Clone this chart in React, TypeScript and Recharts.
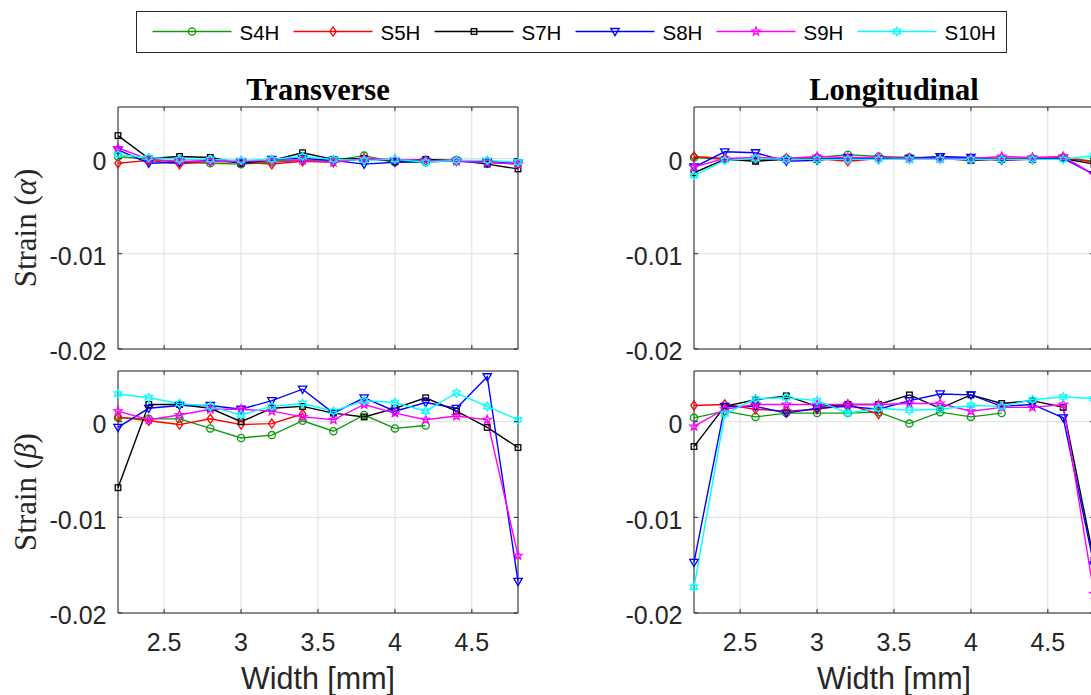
import React from 'react'
import { LineChart, Line, XAxis, YAxis, CartesianGrid, ReferenceArea } from 'recharts'

const widths = [2.2, 2.4, 2.6, 2.8, 3.0, 3.2, 3.4, 3.6, 3.8, 4.0, 4.2, 4.4, 4.6, 4.8]
const xTicks = [2.5, 3, 3.5, 4, 4.5]
const yTicks = [-0.02, -0.01, 0]

const seriesNames = ['S4H', 'S5H', 'S7H', 'S8H', 'S9H', 'S10H']
const seriesColors = ['#0c9a0c', '#ff0000', '#000000', '#0000ff', '#ff00ff', '#00ffff']
const seriesMarkers = ['circle', 'diamond', 'square', 'triangle', 'star', 'hexagram']

// Transverse, strain alpha
const transAlphaS4H = [0.0002, -0.0001, -0.0004, -0.0005, -0.0006, -0.0004, -0.0002, -0.0002, 0.0003, -0.0004, -0.0004, -0.0002, -0.0003, -0.0005]
const transAlphaS5H = [-0.0005, -0.0002, -0.0006, -0.0003, -0.0004, -0.0006, -0.0003, -0.0004, 0, -0.0002, -0.0003, -0.0002, -0.0004, -0.0006]
const transAlphaS7H = [0.0024, 0, 0.0002, 0.0001, -0.0005, -0.0002, 0.0006, -0.0001, 0, -0.0003, -0.0001, -0.0002, -0.0006, -0.0011]
const transAlphaS8H = [0.0009, -0.0005, -0.0004, -0.0002, -0.0004, -0.0001, 0, -0.0002, -0.0006, -0.0004, -0.0003, -0.0003, -0.0004, -0.0005]
const transAlphaS9H = [0.0011, -0.0001, -0.0003, -0.0003, -0.0003, -0.0002, -0.0002, -0.0004, 0, -0.0001, -0.0002, -0.0003, -0.0004, -0.0006]
const transAlphaS10H = [0.0004, 0.0001, -0.0001, -0.0001, -0.0002, -0.0001, 0.0002, -0.0001, -0.0002, -0.0001, -0.0004, -0.0002, -0.0002, -0.0004]

// Longitudinal, strain alpha
const longAlphaS4H = [0.0001, -0.0001, -0.0002, 0, 0.0001, 0.0004, 0.0002, 0.0001, 0.0001, 0, 0, 0, 0.0001, -0.0003]
const longAlphaS5H = [0.0002, 0, -0.0001, 0, 0, -0.0003, 0, 0, 0, 0, 0, 0, 0.0001, -0.0004]
const longAlphaS7H = [-0.0015, -0.0001, -0.0003, -0.0001, -0.0001, 0.0001, 0, 0, 0, -0.0002, -0.0001, -0.0001, 0, -0.0006]
const longAlphaS8H = [-0.0009, 0.0007, 0.0006, -0.0003, -0.0002, 0.0001, -0.0001, 0, 0.0002, 0.0001, -0.0002, -0.0001, 0, -0.0017]
const longAlphaS9H = [-0.0009, 0, 0.0001, 0, 0.0002, 0.0001, 0.0001, 0, 0, 0, 0.0002, 0.0001, 0.0002, -0.0017]
const longAlphaS10H = [-0.0018, -0.0002, 0, -0.0001, -0.0001, -0.0001, -0.0001, -0.0001, -0.0001, -0.0001, -0.0001, -0.0001, -0.0001, 0.0003]

// Transverse, strain beta
const transBetaS4H = [0.0004, 0.0003, 0.0003, -0.0007, -0.0017, -0.0014, 0.0001, -0.001, 0.0007, -0.0007, -0.0004, null, null, null]
const transBetaS5H = [0.0005, 0.0001, -0.0003, 0.0003, -0.0003, -0.0002, 0.0008, null, null, null, null, null, null, null]
const transBetaS7H = [-0.0069, 0.0018, 0.0018, 0.0014, 0, 0.0014, 0.0016, 0.0009, 0.0005, 0.0014, 0.0025, 0.0011, -0.0006, -0.0027]
const transBetaS8H = [-0.0006, 0.0014, 0.0017, 0.0017, 0.0013, 0.0022, 0.0034, 0.0009, 0.0025, 0.0011, 0.002, 0.0014, 0.0047, -0.0167]
const transBetaS9H = [0.0011, 0.0002, 0.0007, 0.0013, 0.0013, 0.0011, 0.0005, 0.0002, 0.0018, 0.0009, 0.0002, 0.0006, 0.0002, -0.014]
const transBetaS10H = [0.0029, 0.0025, 0.0019, 0.0016, 0.0007, 0.0016, 0.0019, 0.0011, 0.0022, 0.002, 0.0011, 0.003, 0.0016, 0.0002]

// Longitudinal, strain beta
const longBetaS4H = [0.0004, 0.0011, 0.0005, 0.0009, 0.0009, 0.0009, 0.001, -0.0002, 0.001, 0.0005, 0.0009, null, null, null]
const longBetaS5H = [0.0017, 0.0018, 0.0013, 0.0011, 0.0013, 0.0018, 0.0008, null, null, null, null, null, null, null]
const longBetaS7H = [-0.0026, 0.0016, 0.0023, 0.0027, 0.0016, 0.0018, 0.0018, 0.0028, 0.0014, 0.0028, 0.0019, 0.0022, 0.0015, -0.0145]
const longBetaS8H = [-0.0147, 0.0016, 0.0016, 0.0009, 0.0014, 0.0016, 0.0013, 0.0022, 0.0029, 0.0028, 0.0016, 0.0018, 0.0004, -0.015]
const longBetaS9H = [-0.0005, 0.0013, 0.0018, 0.0018, 0.0018, 0.0018, 0.0018, 0.0019, 0.0019, 0.0011, 0.0015, 0.0015, 0.0018, -0.018]
const longBetaS10H = [-0.0173, 0.0008, 0.0024, 0.0025, 0.0022, 0.0009, 0.0014, 0.0012, 0.0013, 0.0017, 0.0016, 0.0023, 0.0026, 0.0024]

const SANS = '"Liberation Sans", Arial, Helvetica, sans-serif'
const SERIF = '"Liberation Serif", "Times New Roman", serif'
const AXIS = '#262626'
const GRID = '#dedede'

const PLOT_W = 400
const PLOT_H = 242
const Y_W = 118
const M_TOP = 11
const M_RIGHT = 12
const X_H = 50

function Marker({ shape, cx, cy, color }: { shape: string; cx: number; cy: number; color: string }) {
  const common = { fill: 'none', stroke: color, strokeWidth: 1.3 }
  if (shape === 'circle') return <circle cx={cx} cy={cy} r={3.6} {...common} />
  if (shape === 'diamond')
    return <polygon points={`${cx},${cy - 4.6} ${cx + 3.2},${cy} ${cx},${cy + 4.6} ${cx - 3.2},${cy}`} {...common} />
  if (shape === 'square') return <rect x={cx - 2.8} y={cy - 2.8} width={5.6} height={5.6} {...common} />
  if (shape === 'triangle')
    return <polygon points={`${cx - 4.2},${cy - 3} ${cx + 4.2},${cy - 3} ${cx},${cy + 4.2}`} {...common} />
  const n = shape === 'star' ? 5 : 6
  const R = shape === 'star' ? 4.4 : 4.2
  const r = shape === 'star' ? 1.9 : 2.4
  const pts: string[] = []
  for (let k = 0; k < n * 2; k++) {
    const a = -Math.PI / 2 + (k * Math.PI) / n
    const rad = k % 2 === 0 ? R : r
    pts.push(`${cx + rad * Math.cos(a)},${cy + rad * Math.sin(a)}`)
  }
  return <polygon points={pts.join(' ')} {...common} />
}

const XTick = (props: any) => {
  const { x, payload, showLabel } = props
  const yb = M_TOP + PLOT_H
  return (
    <g>
      <line x1={x} x2={x} y1={yb} y2={yb - 4} stroke={AXIS} />
      <line x1={x} x2={x} y1={M_TOP} y2={M_TOP + 4} stroke={AXIS} />
      {showLabel && (
        <text x={x} y={yb + 20} dy="0.71em" textAnchor="middle" fill={AXIS} fontSize={25} fontFamily={SANS}>
          {String(payload.value)}
        </text>
      )}
    </g>
  )
}

const YTick = (props: any) => {
  const { y, payload } = props
  return (
    <g>
      <line x1={Y_W} x2={Y_W + 4} y1={y} y2={y} stroke={AXIS} />
      <line x1={Y_W + PLOT_W} x2={Y_W + PLOT_W - 4} y1={y} y2={y} stroke={AXIS} />
      <text x={Y_W - 11.5} y={y} dy="0.45em" textAnchor="end" fill={AXIS} fontSize={25} fontFamily={SANS}>
        {String(payload.value)}
      </text>
    </g>
  )
}

type PanelProps = { values: (number | null)[][]; left: number; top: number; yMax: number; showX: boolean }

function Panel({ values, left, top, yMax, showX }: PanelProps) {
  const data = widths.map((w, i) => {
    const row: Record<string, number | null> = { w }
    seriesNames.forEach((name, s) => {
      row[name] = values[s][i]
    })
    return row
  })
  return (
    <div style={{ position: 'absolute', left: left - Y_W, top: top - M_TOP }}>
      <LineChart
        width={Y_W + PLOT_W + M_RIGHT}
        height={M_TOP + PLOT_H + X_H}
        data={data}
        margin={{ top: M_TOP, right: M_RIGHT, left: 0, bottom: 0 }}
      >
        <CartesianGrid stroke={GRID} />
        <XAxis
          dataKey="w"
          type="number"
          domain={[2.2, 4.8]}
          ticks={xTicks}
          interval={0}
          height={X_H}
          axisLine={false}
          tickLine={false}
          tickSize={0}
          tickMargin={20}
          tick={(p: any) => <XTick {...p} showLabel={showX} />}
        />
        <YAxis
          type="number"
          domain={[-0.02, yMax]}
          ticks={yTicks}
          interval={0}
          width={Y_W}
          axisLine={false}
          tickLine={false}
          tickSize={0}
          tickMargin={11}
          tick={(p: any) => <YTick {...p} />}
        />
        {seriesNames.map((name, s) => (
          <Line
            key={name}
            type="linear"
            dataKey={name}
            stroke={seriesColors[s]}
            strokeWidth={1.4}
            isAnimationActive={false}
            activeDot={false}
            dot={(p: any) =>
              p.cy == null || p.value == null ? (
                <g key={`${name}-${p.index}`} />
              ) : (
                <Marker key={`${name}-${p.index}`} shape={seriesMarkers[s]} cx={p.cx} cy={p.cy} color={seriesColors[s]} />
              )
            }
          />
        ))}
        <ReferenceArea x1={2.2} x2={4.8} y1={-0.02} y2={yMax} fill="none" stroke={AXIS} strokeWidth={1} ifOverflow="visible" />
      </LineChart>
    </div>
  )
}

function LegendBox() {
  return (
    <svg width={871} height={42} style={{ position: 'absolute', left: 135.5, top: 10.5 }}>
      <rect x={0.5} y={0.5} width={870} height={41} fill="#fff" stroke={AXIS} />
      {seriesNames.map((name, s) => {
        const x0 = 16.5 + s * 141
        return (
          <g key={name}>
            <line x1={x0} x2={x0 + 79} y1={20.5} y2={20.5} stroke={seriesColors[s]} strokeWidth={1.4} />
            <Marker shape={seriesMarkers[s]} cx={x0 + 39.5} cy={20.5} color={seriesColors[s]} />
            <text x={x0 + 87} y={28.5} fontSize={20.5} fontFamily={SANS} fill="#000">
              {name}
            </text>
          </g>
        )
      })}
    </svg>
  )
}

export default function App() {
  return (
    <div style={{ position: 'absolute', left: 0, top: 0, width: 1091, height: 695, overflow: 'hidden', background: '#fff' }}>
      <Panel values={[transAlphaS4H, transAlphaS5H, transAlphaS7H, transAlphaS8H, transAlphaS9H, transAlphaS10H]} left={118} top={107} yMax={0.0054} showX={false} />
      <Panel values={[longAlphaS4H, longAlphaS5H, longAlphaS7H, longAlphaS8H, longAlphaS9H, longAlphaS10H]} left={694} top={107} yMax={0.0054} showX={false} />
      <Panel values={[transBetaS4H, transBetaS5H, transBetaS7H, transBetaS8H, transBetaS9H, transBetaS10H]} left={118} top={371} yMax={0.0053} showX={true} />
      <Panel values={[longBetaS4H, longBetaS5H, longBetaS7H, longBetaS8H, longBetaS9H, longBetaS10H]} left={694} top={371} yMax={0.0053} showX={true} />
      <svg width={1091} height={695} style={{ position: 'absolute', left: 0, top: 0, pointerEvents: 'none' }}>
        <text x={318} y={99.5} textAnchor="middle" fontFamily={SERIF} fontWeight="bold" fontSize={30.5} fill="#000">
          Transverse
        </text>
        <text x={894} y={99.5} textAnchor="middle" fontFamily={SERIF} fontWeight="bold" fontSize={30.5} fill="#000">
          Longitudinal
        </text>
        <text transform="translate(36,228) rotate(-90)" textAnchor="middle" fontFamily={SERIF} fontSize={31} fill={AXIS}>
          Strain (<tspan fontStyle="italic">α</tspan>)
        </text>
        <text transform="translate(36,492) rotate(-90)" textAnchor="middle" fontFamily={SERIF} fontSize={31} fill={AXIS}>
          Strain (<tspan fontStyle="italic">β</tspan>)
        </text>
        <text x={318} y={689} textAnchor="middle" fontFamily={SANS} fontSize={30.5} fill={AXIS}>
          Width [mm]
        </text>
        <text x={894} y={689} textAnchor="middle" fontFamily={SANS} fontSize={30.5} fill={AXIS}>
          Width [mm]
        </text>
      </svg>
      <LegendBox />
    </div>
  )
}
